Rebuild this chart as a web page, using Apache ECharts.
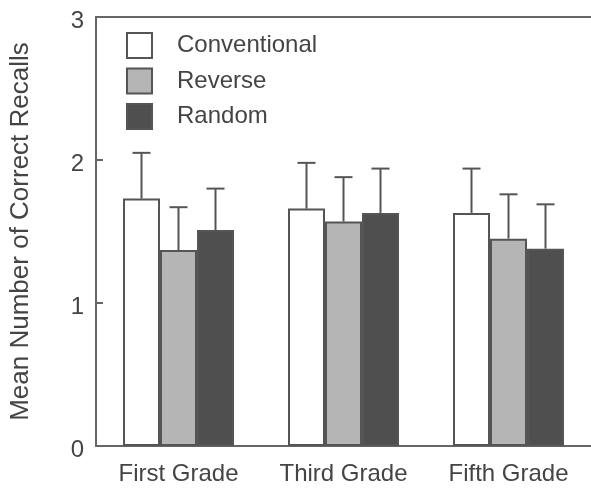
<!DOCTYPE html>
<html>
<head>
<meta charset="utf-8">
<script src="https://cdn.jsdelivr.net/npm/echarts@6/dist/echarts.min.js"></script>
<style>html,body{margin:0;padding:0;background:#fff}#c{width:591px;height:488px}</style>
</head>
<body>
<div id="c"></div>
<script>
var categories = ['First Grade', 'Third Grade', 'Fifth Grade'];
var seriesNames = ['Conventional', 'Reverse', 'Random'];
var conventional = [1.73, 1.66, 1.63];
var reverse = [1.37, 1.57, 1.45];
var random = [1.51, 1.63, 1.38];
var conventionalErr = [2.05, 1.98, 1.94];
var reverseErr = [1.67, 1.88, 1.76];
var randomErr = [1.80, 1.94, 1.69];
var yTicks = [0, 1, 2, 3];

var FONT = '"Liberation Sans", Arial, Helvetica, sans-serif';
var TXT = '#444444';
var LINE = '#666666';
var BW = 37;
var fills = ['#ffffff', '#b5b5b5', '#4f4f4f'];
var values = [conventional, reverse, random];
var errs = [conventionalErr, reverseErr, randomErr];

var chart = echarts.init(document.getElementById('c'), null, {renderer: 'canvas'});

var series = [];
seriesNames.forEach(function (name, i) {
  series.push({
    name: name,
    type: 'bar',
    data: values[i],
    barWidth: BW,
    barGap: '0%',
    itemStyle: {color: fills[i], borderColor: '#555', borderWidth: 2},
    emphasis: {disabled: true}
  });
});
seriesNames.forEach(function (name, i) {
  series.push({
    type: 'custom',
    data: categories.map(function (c, k) { return [k, values[i][k], errs[i][k]]; }),
    encode: {x: 0, y: [1, 2]},
    z: 3,
    silent: true,
    renderItem: function (params, api) {
      var k = api.value(0);
      var p0 = api.coord([k, api.value(1)]);
      var p1 = api.coord([k, api.value(2)]);
      var x = p0[0] + (i - 1) * BW;
      var cap = 9;
      var st = {stroke: '#555', lineWidth: 2};
      return {
        type: 'group',
        children: [
          {type: 'line', shape: {x1: x, y1: p0[1], x2: x, y2: p1[1]}, style: st},
          {type: 'line', shape: {x1: x - cap, y1: p1[1], x2: x + cap, y2: p1[1]}, style: st}
        ]
      };
    }
  });
});

chart.setOption({
  animation: false,
  backgroundColor: '#fff',
  grid: {left: 96, top: 17, right: 0, bottom: 42},
  legend: {
    data: seriesNames,
    orient: 'vertical',
    left: 126,
    top: 32,
    padding: 0,
    itemWidth: 25,
    itemHeight: 25,
    itemGap: 8.5,
    icon: 'rect',
    textStyle: {fontFamily: FONT, fontSize: 24, lineHeight: 22, color: TXT, padding: [3, 0, 0, 20]}
  },
  xAxis: [{
    type: 'category',
    data: categories,
    axisLine: {show: true, lineStyle: {color: LINE, width: 2}},
    axisTick: {show: false},
    axisLabel: {fontFamily: FONT, fontSize: 24, color: TXT, margin: 16, interval: 0, hideOverlap: false}
  }, {
    type: 'category',
    data: categories,
    position: 'top',
    axisLine: {show: true, lineStyle: {color: LINE, width: 2}},
    axisTick: {show: false},
    axisLabel: {show: false}
  }],
  yAxis: {
    type: 'value',
    min: yTicks[0],
    max: yTicks[yTicks.length - 1],
    interval: 1,
    name: 'Mean Number of Correct Recalls',
    nameLocation: 'middle',
    nameGap: 62,
    nameTextStyle: {fontFamily: FONT, fontSize: 26, color: TXT},
    axisLine: {show: true, lineStyle: {color: LINE, width: 2}},
    axisTick: {show: true, inside: true, length: 7, lineStyle: {color: LINE, width: 2}},
    axisLabel: {
      fontFamily: FONT, fontSize: 24, color: TXT, margin: 12,
      formatter: '{a|{value}}',
      rich: {a: {fontFamily: FONT, fontSize: 24, color: TXT, padding: [8, 0, 0, 0]}}
    },
    splitLine: {show: false}
  },
  series: series
});
</script>
</body>
</html>
